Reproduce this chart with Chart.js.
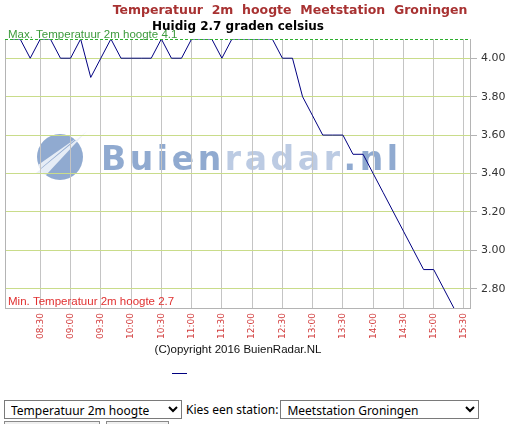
<!DOCTYPE html>
<html lang="nl">
<head>
  <meta charset="UTF-8" />
  <title>Temperatuur 2m hoogte Meetstation Groningen</title>
  <script src="https://cdn.jsdelivr.net/npm/chart.js"></script>
  <style>
    body {
      margin: 0;
      background: #ffffff;
      width: 512px;
      height: 424px;
      overflow: hidden;
      position: relative;
      font-family: 'Noto Sans', sans-serif;
    }
    #chartBox {
      position: absolute;
      left: 0;
      top: 0;
      width: 512px;
      height: 390px;
    }
    .form-row {
      position: absolute;
      left: 4px;
      top: 400px;
      display: flex;
      align-items: center;
      font-size: 12px;
      color: #000;
    }
    .form-row select {
      height: 19px;
      font-family: 'Noto Sans', sans-serif;
      font-size: 12px;
      padding: 0 2px;
      border: 1px solid #7a7a7a;
      background: #fff;
      border-radius: 0;
    }
    .form-row span {
      margin: 0 2px 0 4px;
    }
    .btn-row {
      position: absolute;
      left: 4px;
      top: 421px;
      display: flex;
      gap: 6px;
    }
    .btn-row div {
      height: 20px;
      border: 1px solid #8a8a8a;
      background: #f0f0f0;
    }
  </style>
</head>
<body>

<div id="chartBox">
  <canvas id="tempChart" width="512" height="390"></canvas>
</div>

<div class="form-row">
  <select style="width:178px"><option>Temperatuur 2m hoogte</option></select>
  <span>Kies een station:</span>
  <select style="width:199px"><option>Meetstation Groningen</option></select>
</div>
<div class="btn-row">
  <div style="width:94px"></div>
  <div style="width:61px"></div>
</div>

<script>
  // metingen, elke 10 minuten
  const times = [
    '08:00', '08:10', '08:20', '08:30', '08:40', '08:50',
    '09:00', '09:10', '09:20', '09:30', '09:40', '09:50',
    '10:00', '10:10', '10:20', '10:30', '10:40', '10:50',
    '11:00', '11:10', '11:20', '11:30', '11:40', '11:50',
    '12:00', '12:10', '12:20', '12:30', '12:40', '12:50',
    '13:00', '13:10', '13:20', '13:30', '13:40', '13:50',
    '14:00', '14:10', '14:20', '14:30', '14:40', '14:50',
    '15:00', '15:10', '15:20'
  ];
  const temps = [
    4.1, 4.1, 4.0, 4.1, 4.1, 4.0,
    4.0, 4.1, 3.9, 4.0, 4.1, 4.0,
    4.0, 4.0, 4.0, 4.1, 4.0, 4.0,
    4.1, 4.1, 4.1, 4.0, 4.1, 4.1,
    4.1, 4.1, 4.1, 4.0, 4.0, 3.8,
    3.7, 3.6, 3.6, 3.6, 3.5, 3.5,
    3.4, 3.3, 3.2, 3.1, 3.0, 2.9,
    2.9, 2.8, 2.7
  ];
  const tickTimes = [
    '08:30', '09:00', '09:30', '10:00', '10:30', '11:00', '11:30', '12:00',
    '12:30', '13:00', '13:30', '14:00', '14:30', '15:00', '15:30'
  ];
  const timeRange = ['07:55', '15:36'];
  const maxTemp = 4.1;
  const minTemp = 2.7;
  const currentTemp = 2.7;

  const toMin = t => {
    const [h, m] = t.split(':').map(Number);
    return h * 60 + m;
  };
  const toLabel = v => {
    const h = Math.floor(v / 60), m = v % 60;
    return String(h).padStart(2, '0') + ':' + String(m).padStart(2, '0');
  };

  const points = times.map((t, i) => ({ x: toMin(t), y: temps[i] }));

  const decor = {
    id: 'decor',
    beforeDraw(chart) {
      const { ctx, chartArea: a } = chart;
      ctx.save();
      // watermark logo
      const cx = a.left + 55, cy = 157;
      ctx.fillStyle = 'rgba(125,155,200,0.85)';
      ctx.beginPath();
      ctx.arc(cx, cy, 23, 0, Math.PI * 2);
      ctx.fill();
      ctx.fillStyle = 'rgba(235,240,248,0.95)';
      ctx.beginPath();
      ctx.moveTo(cx - 24, cy + 16);
      ctx.lineTo(cx + 27, cy - 26);
      ctx.lineTo(cx - 14, cy + 18);
      ctx.closePath();
      ctx.fill();
      ctx.beginPath();
      ctx.moveTo(cx - 22, cy + 8);
      ctx.lineTo(cx + 18, cy - 20);
      ctx.lineTo(cx - 20, cy + 12);
      ctx.closePath();
      ctx.fill();
      ctx.font = 'bold 33px "DejaVu Sans"';
      ctx.textBaseline = 'alphabetic';
      ctx.textAlign = 'left';
      let x = 101;
      const parts = [['Buien', 'rgba(125,155,200,0.85)'], ['radar', 'rgba(165,186,218,0.75)'], ['.nl', 'rgba(125,155,200,0.85)']];
      for (const [txt, col] of parts) {
        ctx.fillStyle = col;
        for (const ch of txt) {
          ctx.fillText(ch, x, 170);
          x += ctx.measureText(ch).width + 3.6;
        }
      }
      ctx.restore();
    },
    afterDatasetsDraw(chart) {
      const { ctx, chartArea: a, scales } = chart;
      ctx.save();
      // left border
      ctx.strokeStyle = '#b4b4b4';
      ctx.lineWidth = 1;
      ctx.beginPath();
      ctx.moveTo(a.left + 0.5, a.top);
      ctx.lineTo(a.left + 0.5, a.bottom);
      ctx.stroke();
      // max lijn
      const yMax = Math.round(scales.y.getPixelForValue(maxTemp)) + 0.5;
      ctx.strokeStyle = '#2dae2d';
      ctx.lineWidth = 1;
      ctx.setLineDash([3, 2]);
      ctx.beginPath();
      ctx.moveTo(a.left, yMax);
      ctx.lineTo(a.right, yMax);
      ctx.stroke();
      ctx.setLineDash([]);
      ctx.font = '11.5px "Liberation Sans"';
      ctx.textAlign = 'left';
      ctx.textBaseline = 'alphabetic';
      ctx.fillStyle = '#3d9a3d';
      ctx.fillText('Max. Temperatuur 2m hoogte ' + maxTemp, a.left + 3, yMax - 2);
      const yMin = scales.y.getPixelForValue(minTemp);
      ctx.fillStyle = '#e03030';
      ctx.fillText('Min. Temperatuur 2m hoogte ' + minTemp, a.left + 3, yMin - 3);
      ctx.restore();
    },
    afterDraw(chart) {
      const { ctx } = chart;
      ctx.save();
      ctx.textAlign = 'center';
      ctx.textBaseline = 'alphabetic';
      ctx.font = 'bold 12.5px "DejaVu Sans"';
      ctx.fillStyle = '#a83232';
      ctx.fillText('Temperatuur  2m  hoogte  Meetstation  Groningen', 290, 14);
      ctx.font = 'bold 12px "DejaVu Sans"';
      ctx.fillStyle = '#000000';
      ctx.fillText('Huidig ' + currentTemp + ' graden celsius', 238, 30);
      ctx.font = '11.5px "Liberation Sans"';
      ctx.fillStyle = '#111111';
      ctx.fillText('(C)opyright 2016 BuienRadar.NL', 238, 353);
      // legenda
      ctx.strokeStyle = '#000080';
      ctx.lineWidth = 1;
      ctx.beginPath();
      ctx.moveTo(172, 373.5);
      ctx.lineTo(187, 373.5);
      ctx.stroke();
      ctx.restore();
    }
  };

  new Chart(document.getElementById('tempChart'), {
    type: 'line',
    data: {
      datasets: [{
        label: 'Temperatuur',
        data: points,
        borderColor: '#000080',
        borderWidth: 1,
        pointRadius: 0,
        fill: false,
        tension: 0
      }]
    },
    options: {
      responsive: false,
      animation: false,
      layout: { padding: { left: 5, top: 39, right: 0, bottom: 42 } },
      plugins: {
        legend: { display: false },
        tooltip: { enabled: false },
        title: { display: false }
      },
      scales: {
        x: {
          type: 'linear',
          min: toMin(timeRange[0]),
          max: toMin(timeRange[1]),
          afterBuildTicks: scale => {
            scale.ticks = tickTimes.map(t => ({ value: toMin(t) }));
          },
          afterFit: scale => { scale.height = 40; },
          grid: { color: '#c4c4c4', drawTicks: false },
          border: { display: true, color: '#b4b4b4' },
          ticks: {
            autoSkip: false,
            minRotation: 90,
            maxRotation: 90,
            padding: 5,
            color: '#d23c3c',
            font: { family: 'DejaVu Sans', size: 9 },
            callback: v => toLabel(v)
          }
        },
        y: {
          position: 'right',
          min: minTemp,
          max: maxTemp,
          afterFit: scale => { scale.width = 42; },
          grid: {
            color: c => (Math.round(c.tick.value * 10) % 2 === 0 ? '#c9dc8a' : 'rgba(0,0,0,0)'),
            tickColor: c => (Math.round(c.tick.value * 10) % 2 === 0 ? '#b4b4b4' : 'rgba(0,0,0,0)'),
            tickLength: 7
          },
          border: { display: true, color: '#b4b4b4' },
          ticks: {
            stepSize: 0.1,
            padding: 4,
            color: '#333333',
            font: { family: 'DejaVu Sans', size: 11 },
            callback: v => (Math.round(v * 10) % 2 === 0 ? Number(v).toFixed(2) : '')
          }
        }
      }
    },
    plugins: [decor]
  });
</script>

</body>
</html>
